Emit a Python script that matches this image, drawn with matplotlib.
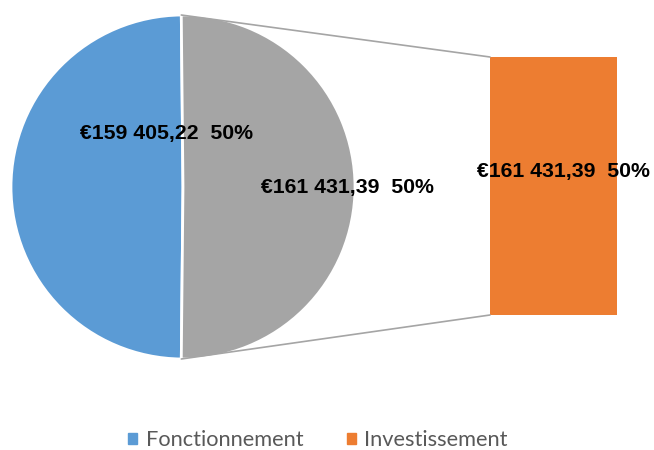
import matplotlib.pyplot as plt
from matplotlib.patches import ConnectionPatch, Patch
import numpy as np

# data
pie_labels = ['Fonctionnement', 'Autre']
pie_values = [159405.22, 161431.39]
bar_label = 'Investissement'
bar_value = 161431.39
colors = ['#5B9BD5', '#A5A5A5']
bar_color = '#ED7D31'

total = sum(pie_values)


def fmt(v):
    s = f'{v:,.2f}'.replace(',', ' ').replace('.', ',')
    return f'€{s}  {v / total * 100:.0f}%'


W, H = 654, 450
fig = plt.figure(figsize=(W / 100, H / 100), dpi=100)
plt.rcParams['font.family'] = ['Lato', 'DejaVu Sans']

# pie axes: centre (183,187), radius 172 px
ax = fig.add_axes([11 / W, (H - 359) / H, 344 / W, 344 / H])
gray_angle = pie_values[1] / total * 360
start = gray_angle / 2
wedges, _ = ax.pie(pie_values, colors=colors, startangle=start, counterclock=True,
                   radius=1, wedgeprops=dict(edgecolor='white', linewidth=2))
ax.set_xlim(-1, 1)
ax.set_ylim(-1, 1)
ax.set_aspect('auto')
ax.axis('off')

lab_kw = dict(fontsize=15.3, fontweight='bold', color='black', ha='center', va='center',
              family=['Liberation Sans', 'DejaVu Sans'])
ax.text((166 - 183) / 172, (187 - 133) / 172, fmt(pie_values[0]), **lab_kw)
ax.text((347 - 183) / 172, (187 - 187) / 172, fmt(pie_values[1]), **lab_kw)

# bar axes
bax = fig.add_axes([490 / W, (H - 315) / H, 127 / W, 258 / H])
bax.bar([0], [bar_value], width=1, color=bar_color)
bax.set_xlim(-0.5, 0.5)
bax.set_ylim(0, bar_value)
bax.axis('off')
bax.text(0.5 + (563 - 553.5) / 127, (315 - 171) / 258, fmt(bar_value),
         transform=bax.transAxes, clip_on=False, **lab_kw)

# connector lines
th1 = np.deg2rad(start)
th2 = np.deg2rad(-start)
for th, yb in [(th1, bar_value), (th2, 0)]:
    con = ConnectionPatch(xyA=(np.cos(th), np.sin(th)), coordsA=ax.transData,
                          xyB=(-0.5, yb), coordsB=bax.transData,
                          color='#A5A5A5', linewidth=1.2)
    fig.add_artist(con)

handles = [Patch(color=colors[0], label=pie_labels[0]),
           Patch(color=bar_color, label=bar_label)]
fig.legend(handles=handles, loc='center', bbox_to_anchor=(318 / W, 1 - 440 / H),
           ncol=2, frameon=False, fontsize=15.7, handlelength=0.4, handleheight=0.4,
           handletextpad=0.4, columnspacing=2.0, labelcolor='#595959')

fig.savefig('out.png', dpi=100)
